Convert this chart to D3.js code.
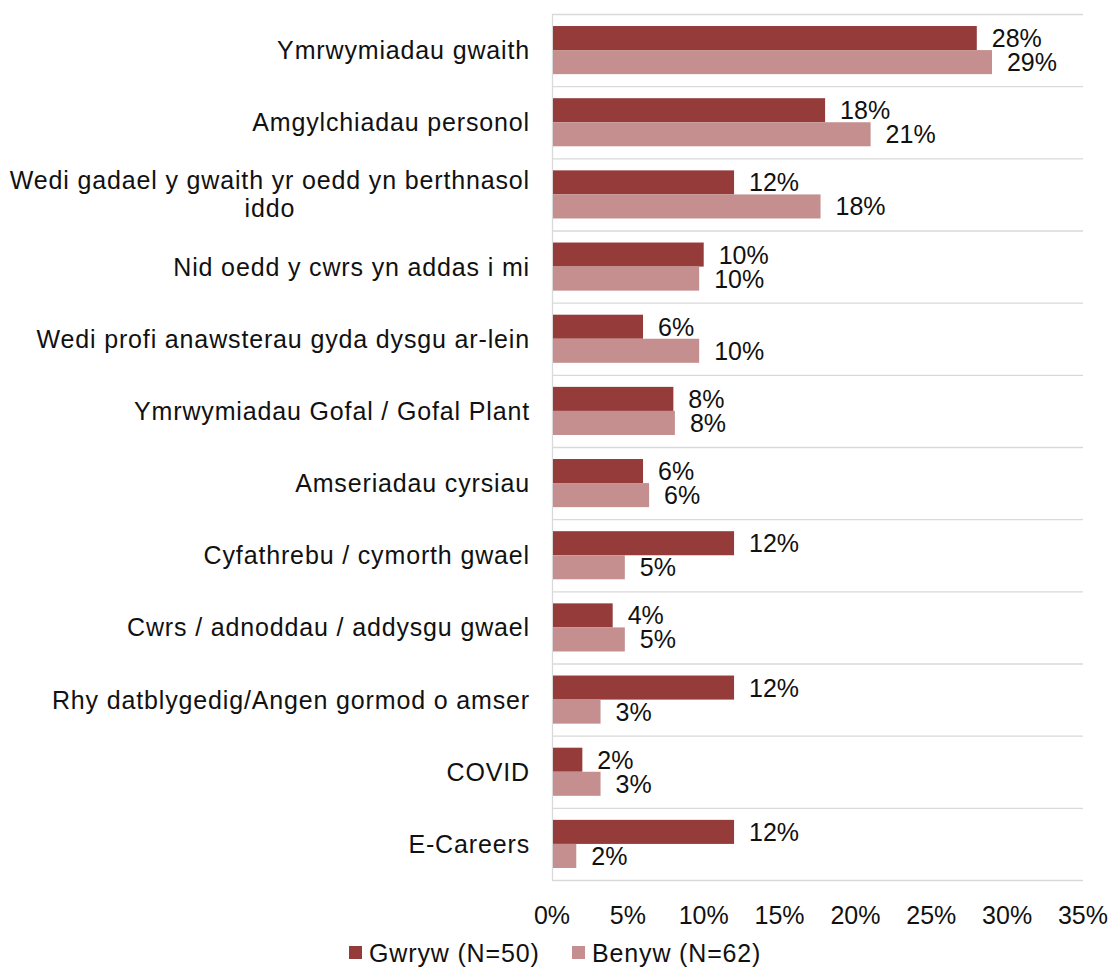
<!DOCTYPE html>
<html><head><meta charset="utf-8">
<script src="https://cdn.jsdelivr.net/npm/d3@7"></script>
<style>body{margin:0;background:#fff}svg{display:block;font-family:"Liberation Sans",Arial,sans-serif}</style>
</head><body>
<svg id="c" width="1112" height="969"></svg>
<script>
const categories = [
  ["Ymrwymiadau gwaith"],
  ["Amgylchiadau personol"],
  ["Wedi gadael y gwaith yr oedd yn berthnasol", "iddo"],
  ["Nid oedd y cwrs yn addas i mi"],
  ["Wedi profi anawsterau gyda dysgu ar-lein"],
  ["Ymrwymiadau Gofal / Gofal Plant"],
  ["Amseriadau cyrsiau"],
  ["Cyfathrebu / cymorth gwael"],
  ["Cwrs / adnoddau / addysgu gwael"],
  ["Rhy datblygedig/Angen gormod o amser"],
  ["COVID"],
  ["E-Careers"]
];
const gwryw = [28, 18, 12, 10, 6, 8, 6, 12, 4, 12, 2, 12];
const benyw = [29.0, 21.0, 17.7, 9.7, 9.7, 8.1, 6.4, 4.8, 4.8, 3.2, 3.2, 1.6];
const seriesNames = ["Gwryw (N=50)", "Benyw (N=62)"];
const colors = ["#953c3b", "#c48f8e"];
const xTicks = [0, 5, 10, 15, 20, 25, 30, 35];

const FS = 25, LS = 0.85;
const svg = d3.select("#c");
const x = d3.scaleLinear().domain([0, 35]).range([552, 1083]);
const y = d3.scaleBand().domain(d3.range(categories.length)).range([14, 880]);
const sub = d3.scaleBand().domain([0, 1]).range([0, y.bandwidth()]).paddingOuter(0.5).paddingInner(0);

// gridlines
svg.append("g").selectAll("line").data(d3.range(categories.length + 1)).join("line")
  .attr("x1", x(0)).attr("x2", x(35))
  .attr("y1", i => i < categories.length ? y(i) + 0.5 : 880.5)
  .attr("y2", i => i < categories.length ? y(i) + 0.5 : 880.5)
  .attr("stroke", "#d9d9d9").attr("stroke-width", 1.3);
svg.append("line").attr("x1", x(0) + 0.5).attr("x2", x(0) + 0.5).attr("y1", 14).attr("y2", 880)
  .attr("stroke", "#d9d9d9").attr("stroke-width", 1.3);

const data = [gwryw, benyw];
data.forEach((vals, s) => {
  const g = svg.append("g");
  g.selectAll("rect").data(vals).join("rect")
    .attr("x", x(0) + 1)
    .attr("y", (d, i) => y(i) + sub(s))
    .attr("width", d => x(d) - x(0) - 1)
    .attr("height", sub.bandwidth())
    .attr("fill", colors[s]);
  g.selectAll("text").data(vals).join("text")
    .attr("x", d => x(d) + 15)
    .attr("y", (d, i) => y(i) + sub(s) + sub.bandwidth() / 2)
    .attr("dy", "0.36em")
    .attr("font-size", FS).attr("fill", "#111")
    .text(d => Math.round(d) + "%");
});

// category labels
const cl = svg.append("g");
categories.forEach((lines, i) => {
  const cy = y(i) + y.bandwidth() / 2;
  const lh = 28;
  const tmp = cl.append("text").attr("font-size", FS).attr("letter-spacing", LS);
  let maxW = 0;
  lines.forEach(l => { tmp.text(l); maxW = Math.max(maxW, tmp.node().getComputedTextLength()); });
  tmp.remove();
  const cx = 530 - maxW / 2;
  const t = cl.append("text").attr("font-size", FS).attr("letter-spacing", LS)
    .attr("fill", "#111").attr("text-anchor", "middle");
  lines.forEach((l, k) => {
    t.append("tspan").attr("x", cx)
      .attr("y", cy + (k - (lines.length - 1) / 2) * lh)
      .attr("dy", "0.36em").text(l);
  });
});

// x axis labels
svg.append("g").selectAll("text").data(xTicks).join("text")
  .attr("x", d => x(d)).attr("y", 915).attr("dy", "0.36em")
  .attr("text-anchor", "middle").attr("font-size", FS).attr("fill", "#111")
  .text(d => d + "%");

// legend
const lx = [349, 572];
seriesNames.forEach((n, s) => {
  svg.append("rect").attr("x", lx[s]).attr("y", 946).attr("width", 13).attr("height", 13).attr("fill", colors[s]);
  svg.append("text").attr("x", lx[s] + 20).attr("y", 953).attr("dy", "0.36em")
    .attr("font-size", FS).attr("letter-spacing", LS).attr("fill", "#111").text(n);
});
</script>
</body></html>
